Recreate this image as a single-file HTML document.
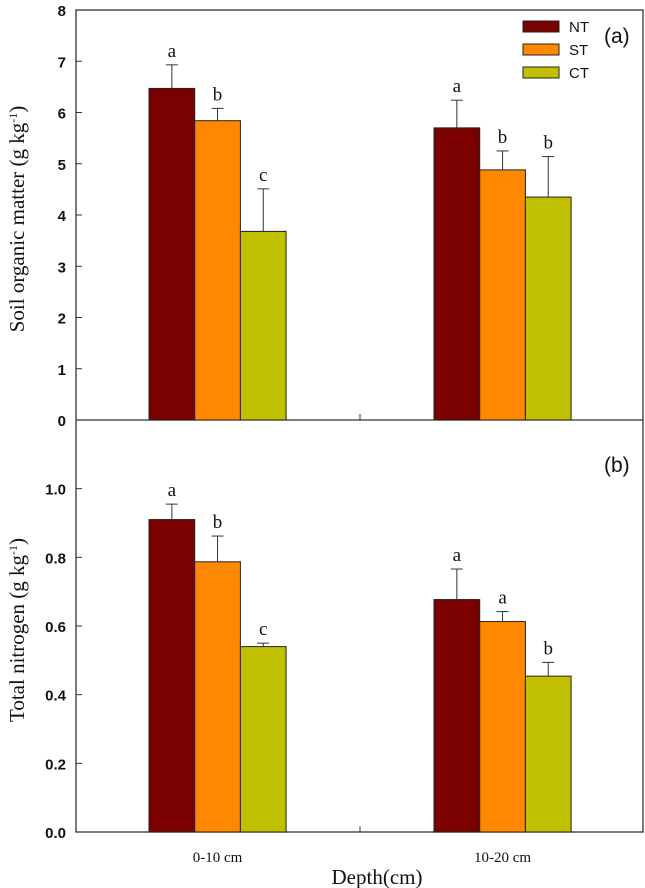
<!DOCTYPE html>
<html><head><meta charset="utf-8"><style>
html,body{margin:0;padding:0;background:#fff;}
svg{display:block;}
</style></head><body>
<svg id="chart" width="645" height="888" viewBox="0 0 645 888" xmlns="http://www.w3.org/2000/svg"></svg>
<script>
const categories = ["0-10 cm", "10-20 cm"];
const seriesNames = ["NT", "ST", "CT"];
const somValues = [[6.47, 5.70], [5.84, 4.88], [3.68, 4.35]];
const somErrors = [[0.46, 0.54], [0.24, 0.37], [0.83, 0.79]];
const somLetters = [["a", "a"], ["b", "b"], ["c", "b"]];
const tnValues = [[0.91, 0.677], [0.787, 0.613], [0.54, 0.454]];
const tnErrors = [[0.045, 0.089], [0.075, 0.029], [0.01, 0.04]];
const tnLetters = [["a", "a"], ["b", "a"], ["c", "b"]];
const somTicks = [0, 1, 2, 3, 4, 5, 6, 7, 8];
const tnTicks = [0.0, 0.2, 0.4, 0.6, 0.8, 1.0];

const colors = ["#7b0000", "#ff8800", "#c1c000"];
const svg = document.getElementById('chart');
const NS = "http://www.w3.org/2000/svg";
function mk(tag, attrs, parent) {
  const e = document.createElementNS(NS, tag);
  for (const k in attrs) e.setAttribute(k, attrs[k]);
  (parent || svg).appendChild(e);
  return e;
}
const X0 = 76, X1 = 643;
const groupStart = [149, 434];
const barW = 45.7;
function xBar(g, s) { return groupStart[g] + s * barW; }

function panel(name, top, bottom, maxV, values, errors, letters, ticks, fmt, yTitle, tag) {
  const y = v => bottom - (v / maxV) * (bottom - top);
  const g = mk('g', {});
  
  
  for (let s = 0; s < values.length; s++) {
    for (let c = 0; c < categories.length; c++) {
      const x = xBar(c, s), v = values[s][c], e = errors[s][c];
      const eb = mk('g', {}, g);
      
      
      mk('line', {x1: x + barW / 2, x2: x + barW / 2, y1: y(v), y2: y(v + e), stroke: '#333', 'stroke-width': 1}, eb);
      mk('line', {x1: x + barW / 2 - 6, x2: x + barW / 2 + 6, y1: y(v + e), y2: y(v + e), stroke: '#333', 'stroke-width': 1}, eb);
      const r = mk('rect', {x: x, y: y(v), width: barW, height: bottom - y(v), fill: colors[s], stroke: '#222', 'stroke-width': 1}, g);
      
      
      const t = mk('text', {x: x + barW / 2, y: y(v + e) - 8, 'text-anchor': 'middle', 'font-family': 'Liberation Serif, serif', 'font-size': 19, fill: '#111'}, g);
      t.textContent = letters[s][c];
      
      
    }
  }
  ticks.forEach(tv => {
    mk('line', {x1: X0, x2: X0 + 6, y1: y(tv), y2: y(tv), stroke: '#333', 'stroke-width': 1}, g);
    const t = mk('text', {x: X0 - 10, y: y(tv) + 6, 'text-anchor': 'end', 'font-family': 'Liberation Sans, sans-serif', 'font-weight': 'bold', 'font-size': 15, fill: '#111'}, g);
    t.textContent = fmt(tv);
    
    
  });
  mk('line', {x1: (X0 + X1) / 2 + 0.5, x2: (X0 + X1) / 2 + 0.5, y1: bottom, y2: bottom - 6, stroke: '#333'}, g);
  const yt = mk('text', {x: 0, y: 0, transform: 'translate(24,' + ((top + bottom) / 2 + 4) + ') rotate(-90)', 'text-anchor': 'middle', 'font-family': 'Liberation Serif, serif', 'font-size': 21, fill: '#111'}, g);
  yt.innerHTML = yTitle + ' (g kg<tspan dy="-7" font-size="12">-1</tspan><tspan dy="7">)</tspan>';
  
  
}
mk('rect', {x: X0, y: 10, width: X1 - X0, height: 822, fill: 'none', stroke: '#333', 'stroke-width': 1.3});
mk('line', {x1: X0, x2: X1, y1: 420, y2: 420, stroke: '#333', 'stroke-width': 1.3});
panel('panel-a', 10, 420, 8, somValues, somErrors, somLetters, somTicks, v => String(v), 'Soil organic matter', 'som');
panel('panel-b', 420, 832, 1.2, tnValues, tnErrors, tnLetters, tnTicks, v => v.toFixed(1), 'Total nitrogen', 'tn');

categories.forEach((c, i) => {
  const t = mk('text', {x: groupStart[i] + 1.5 * barW, y: 862, 'text-anchor': 'middle', 'font-family': 'Liberation Serif, serif', 'font-size': 15, fill: '#111'});
  t.textContent = c;
  
  
});
const xt = mk('text', {x: 377, y: 884, 'text-anchor': 'middle', 'font-family': 'Liberation Serif, serif', 'font-size': 21, fill: '#111'});
xt.textContent = 'Depth(cm)';



seriesNames.forEach((n, i) => {
  const yy = 21 + i * 23;
  const r = mk('rect', {x: 523, y: yy, width: 36, height: 11, fill: colors[i], stroke: '#222'});
  
  
  const t = mk('text', {x: 569, y: yy + 11, 'font-family': 'Liberation Sans, sans-serif', 'font-size': 15, fill: '#111'});
  t.textContent = n;
  
  
});
const pa = mk('text', {x: 604, y: 43, 'font-family': 'Liberation Sans, sans-serif', 'font-size': 21, fill: '#111'});
pa.textContent = '(a)';


const pb = mk('text', {x: 604, y: 472, 'font-family': 'Liberation Sans, sans-serif', 'font-size': 21, fill: '#111'});
pb.textContent = '(b)';


</script>
</body></html>
